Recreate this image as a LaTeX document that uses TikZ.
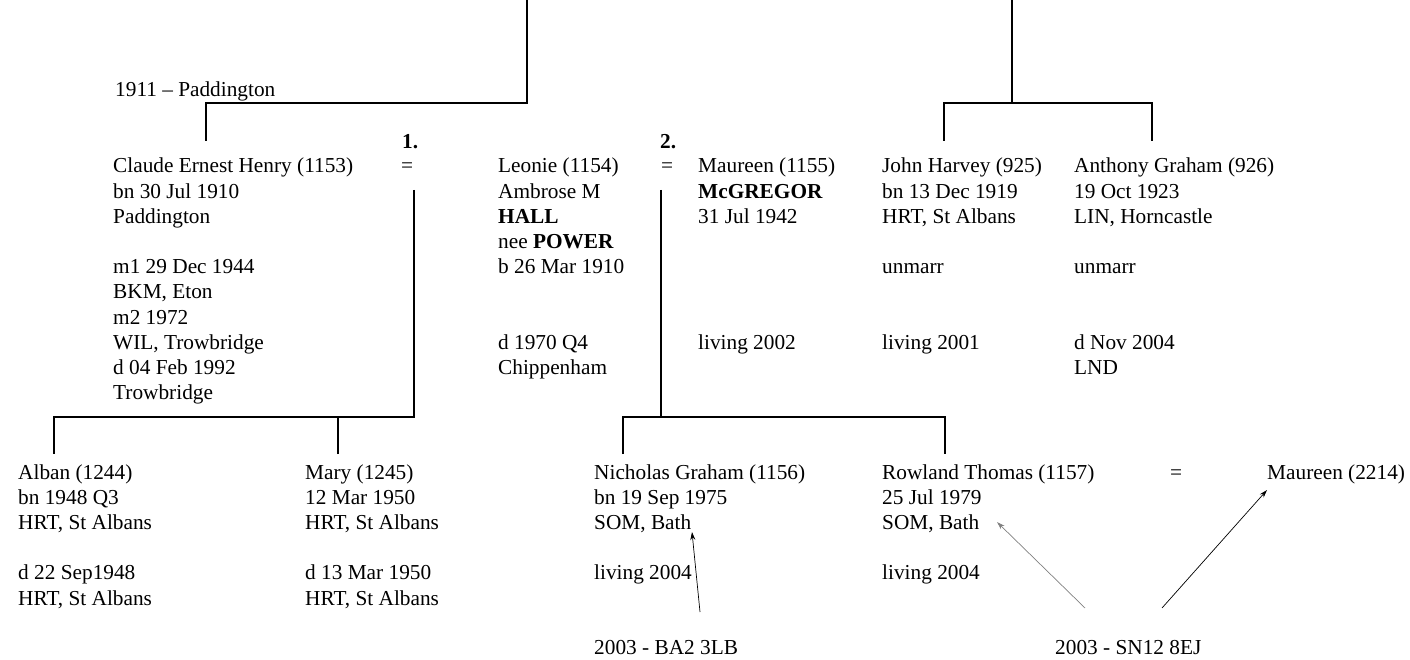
\documentclass[tikz,border=0pt]{standalone}
\usepackage{fontspec}
\setmainfont{Liberation Serif}
\usetikzlibrary{arrows.meta}
% one column of a family card, first baseline on the node's base
\newcommand{\person}[1]{\begin{tabular}[t]{@{}l@{}}#1\end{tabular}}

\begin{document}
\begin{tikzpicture}[x=1pt,y=-1pt,line join=miter,
  every node/.style={inner sep=0pt,anchor=base west,font=\fontsize{21.3}{25.2}\selectfont},
  tree/.style={line width=2.5pt},
  note/.style={line width=0.7pt,-{Stealth[length=8pt,width=5pt]}}]
  \useasboundingbox (0,0) rectangle (1410,660);
  % parents' generation
  \node (place) at (115,97) {1911 -- Paddington};
  \node (claude) at (113,173) {\person{Claude Ernest Henry (1153)\\bn 30 Jul 1910\\Paddington\\ \\m1 29 Dec 1944\\BKM, Eton\\m2 1972\\WIL, Trowbridge\\d 04 Feb 1992\\Trowbridge}};
  \node[font=\fontsize{21.3}{25.2}\selectfont\bfseries] (one) at (402,149) {1.};
  \node (eqa) at (401,173) {=};
  \node (leonie) at (498,173) {\person{Leonie (1154)\\Ambrose M\\\textbf{HALL}\\nee \textbf{POWER}\\b 26 Mar 1910\\ \\ \\d 1970 Q4\\Chippenham}};
  \node[font=\fontsize{21.3}{25.2}\selectfont\bfseries] (two) at (660,149) {2.};
  \node (eqb) at (661,173) {=};
  \node (maureen) at (698,173) {\person{Maureen (1155)\\\textbf{McGREGOR}\\31 Jul 1942\\ \\ \\ \\ \\living 2002}};
  \node (john) at (882,173) {\person{John Harvey (925)\\bn 13 Dec 1919\\HRT, St Albans\\ \\unmarr\\ \\ \\living 2001}};
  \node (anthony) at (1074,173) {\person{Anthony Graham (926)\\19 Oct 1923\\LIN, Horncastle\\ \\unmarr\\ \\ \\d Nov 2004\\LND}};
  % children
  \node (alban) at (18,479) {\person{Alban (1244)\\bn 1948 Q3\\HRT, St Albans\\ \\d 22 Sep1948\\HRT, St Albans}};
  \node (mary) at (305,479) {\person{Mary (1245)\\12 Mar 1950\\HRT, St Albans\\ \\d 13 Mar 1950\\HRT, St Albans}};
  \node (nicholas) at (594,479) {\person{Nicholas Graham (1156)\\bn 19 Sep 1975\\SOM, Bath\\ \\living 2004}};
  \node (rowland) at (882,479) {\person{Rowland Thomas (1157)\\25 Jul 1979\\SOM, Bath\\ \\living 2004}};
  \node (eqc) at (1170,479) {=};
  \node (maureenb) at (1267,479) {Maureen (2214)};
  % postcodes
  \node (pcbath) at (594,654) {2003 - BA2 3LB};
  \node (pcswin) at (1055,654) {2003 - SN12 8EJ};
  % tree lines
  \coordinate (topl) at (527,0);
  \coordinate (topr) at (1012,0);
  \coordinate (claudeup) at (206,141);
  \coordinate (johnup) at (944,141);
  \coordinate (anthonyup) at (1152,141);
  \coordinate (wedl) at (414,190);
  \coordinate (wedr) at (661,190);
  \coordinate (albanup) at (54,454);
  \coordinate (maryup) at (338,454);
  \coordinate (nicholasup) at (623,454);
  \coordinate (rowlandup) at (945,454);
  \draw[tree] (topl) -- ++(0,103) -| (claudeup);
  \draw[tree] (topr) -- ++(0,103);
  \draw[tree] (johnup) -- ++(0,-38) -| (anthonyup);
  \draw[tree] (wedl) -- ++(0,227) -| (albanup);
  \draw[tree] (maryup) -- ++(0,-37);
  \draw[tree] (wedr) -- ++(0,227);
  \draw[tree] (nicholasup) -- ++(0,-37) -| (rowlandup);
  % arrows from postcodes
  \coordinate (bathn) at (692,532);
  \coordinate (bathr) at (997,522);
  \coordinate (wifer) at (1267,490);
  \draw[note] (700,612) -- (bathn);
  \draw[note,gray] (1085,608) -- (bathr);
  \draw[note] (1162,608) -- (wifer);
\end{tikzpicture}
\end{document}
